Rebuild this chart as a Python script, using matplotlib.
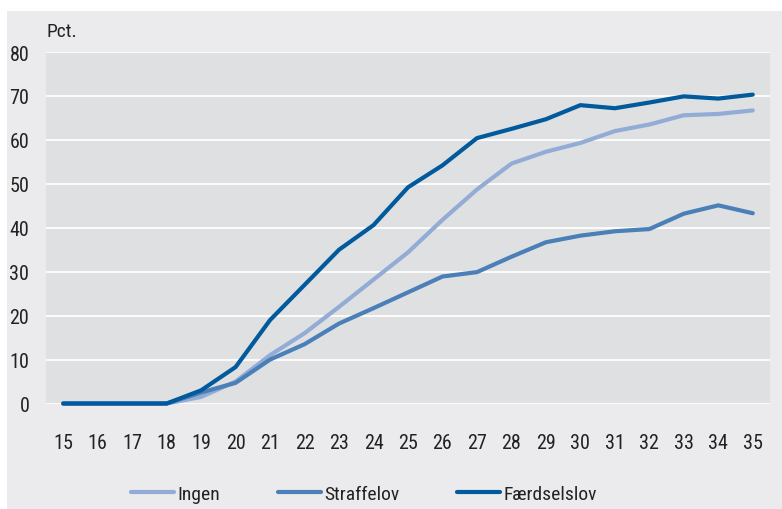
import matplotlib
matplotlib.use("Agg")
import matplotlib.pyplot as plt
from matplotlib import font_manager
from matplotlib.patches import Rectangle

# alder
ages = list(range(15, 36))

ingen = [0, 0, 0, 0, 1.5, 5, 11, 16, 22, 28.2, 34.4, 41.8, 48.7, 54.6, 57.3, 59.3,
         62, 63.5, 65.6, 65.9, 66.7]
straffelov = [0, 0, 0, 0, 2.5, 4.7, 10, 13.5, 18.2, 21.7, 25.3, 28.9, 29.9, 33.4,
              36.7, 38.2, 39.2, 39.7, 43.2, 45.1, 43.3]
faerdselslov = [0, 0, 0, 0, 3, 8.3, 19, 27, 35, 40.6, 49.2, 54.2, 60.4, 62.5, 64.7,
                67.9, 67.2, 68.5, 69.9, 69.4, 70.3]

series = [("Ingen", ingen, "#93acd6"),
          ("Straffelov", straffelov, "#4a7fb8"),
          ("Færdselslov", faerdselslov, "#005a9c")]

yticks = [0, 10, 20, 30, 40, 50, 60, 70, 80]

names = {f.name for f in font_manager.fontManager.ttflist}
fam = "DejaVu Sans"
for cand in ["Liberation Sans Narrow", "Roboto Condensed", "Open Sans Condensed", "Liberation Sans"]:
    if cand in names:
        fam = cand
        break
plt.rcParams['font.family'] = fam

W, H = 782, 510
fig = plt.figure(figsize=(W / 100, H / 100), dpi=100)
fig.patch.set_facecolor("white")
fig.patches.append(Rectangle((7 / W, 0), 1 - 7 / W, 1 - 12 / H, transform=fig.transFigure,
                             facecolor="#ebebed", edgecolor="none", zorder=-5))

ax = fig.add_axes([46 / W, (H - 404.5) / H, (770 - 46) / W, (404.5 - 53) / H])
ax.set_facecolor("#dfe0e2")

for name, vals, col in series:
    ax.plot(ages, vals, color=col, lw=3, label=name, solid_capstyle="round",
            solid_joinstyle="round", zorder=3, clip_on=False)

ax.set_xlim(14.5, 35.5)
ax.set_ylim(0, 80)
ax.set_xticks(ages)
ax.set_yticks(yticks)
ax.yaxis.grid(True, color="white", lw=1.3)
ax.set_axisbelow(True)
for s in ax.spines.values():
    s.set_visible(False)
ax.tick_params(axis="both", length=0, labelsize=14.5, colors="#222222")
ax.tick_params(axis="y", pad=12)
ax.tick_params(axis="x", pad=21)

ax.text(0, 1.06, "Pct.", transform=ax.transAxes, fontsize=14, color="#222222",
        ha="left", va="center")

fig.legend(loc="center left", bbox_to_anchor=(131 / W, 0.03), ncol=3, frameon=False,
           fontsize=14, handlelength=2.2, handletextpad=0.2, columnspacing=2.95,
           borderpad=0, borderaxespad=0, labelcolor="#222222")

fig.savefig("out.png", dpi=100, facecolor=fig.get_facecolor())
